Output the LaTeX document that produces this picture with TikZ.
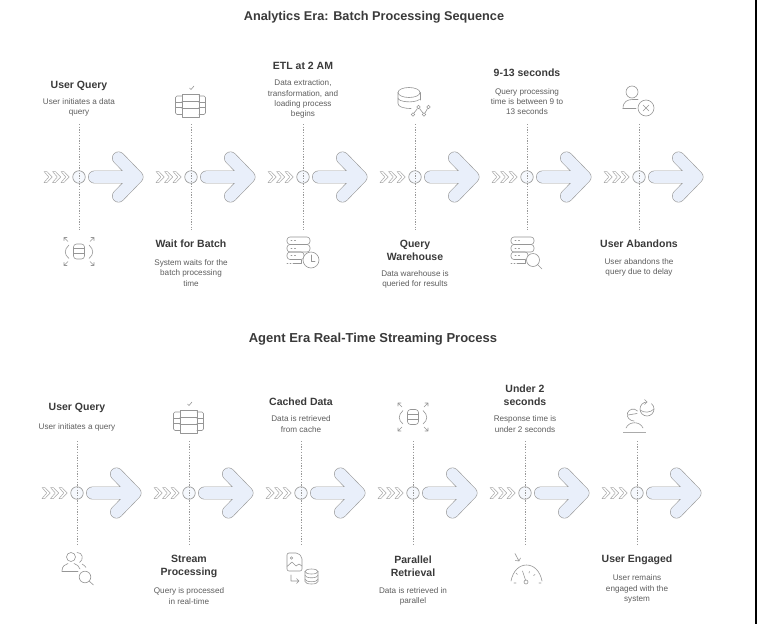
\documentclass[tikz,border=0pt]{standalone}
\usepackage{fontspec}
\setmainfont{Liberation Sans}
\definecolor{titlec}{HTML}{3A3A3A}
\definecolor{descc}{HTML}{5E5E5E}
\definecolor{linec}{HTML}{9A9A9A}
\definecolor{iconc}{HTML}{969696}
\definecolor{arrowf}{HTML}{E9EFFA}
\tikzset{
  x=1pt,y=-1pt,
  ttl/.style={font=\bfseries\fontsize{12.7}{16}\selectfont,text=titlec,inner sep=0pt,anchor=center},
  ttlb/.style={font=\bfseries\fontsize{13}{16}\selectfont,text=titlec,inner sep=0pt,anchor=center},
  head/.style={font=\bfseries\fontsize{10.5}{13}\selectfont,text=titlec,align=center,inner sep=0pt,anchor=center},
  desc/.style={font=\fontsize{8.15}{10.2}\selectfont,text=descc,align=center,inner sep=0pt,anchor=center},
  dots/.style={draw=linec,line width=0.6pt,dash pattern=on 1.3pt off 1.4pt},
  ico/.style={draw=iconc,line width=0.6pt,line cap=round,line join=round},
  hub/.style={circle,draw=linec,line width=0.65pt,fill=arrowf!45,minimum size=12.5pt,inner sep=0pt},
}
\newcommand{\stagefig}[5]{%
  \coordinate (#5t) at (#1,#3);
  \coordinate (#5b) at (#1,#4);
  \node[hub] (#5h) at (#1,#2) {};
  \draw[dots] (#5t) -- (#5b);
  \begin{scope}[shift={(#1,#2)}]
    \foreach \d in {-35,-26.5,-18}{
      \draw[draw=iconc!85,line width=0.5pt,line join=round]
        (\d,-5.5)--(\d+2.9,-5.5)--(\d+8.2,0)--(\d+2.9,5.5)--(\d,5.5)--(\d+4.8,0)--cycle;
    }
    \draw[draw=linec,line width=12.9pt,line cap=round,line join=round]
      (15.5,0)--(58,0) (39.5,-19)--(58,0)--(39.5,19);
    \draw[draw=arrowf,line width=11.7pt,line cap=round,line join=round]
      (15.5,0)--(58,0) (39.5,-19)--(58,0)--(39.5,19);
  \end{scope}
}
\newcommand{\cyl}[4]{% cx, top y, halfwidth, height
  \draw[ico] (#1,#2+2.5) ellipse[x radius=#3,y radius=2.5];
  \draw[ico] (#1-#3,#2+2.5)--(#1-#3,#2+#4-2.5) arc[start angle=180,end angle=0,x radius=#3,y radius=2.5]--(#1+#3,#2+2.5);
  \draw[ico] (#1-#3,#2+#4*0.42) arc[start angle=180,end angle=0,x radius=#3,y radius=2.5];
  \draw[ico] (#1-#3,#2+#4*0.68) arc[start angle=180,end angle=0,x radius=#3,y radius=2.5];
}
\newcommand{\arrowdb}[2]{%
  \begin{scope}[shift={(#1,#2)}]
    \draw[ico,rounded corners=3pt] (-5.5,-7.5) rectangle (5.5,7.5);
    \draw[ico] (-5.5,-3)--(5.5,-3) (-5.5,2)--(5.5,2);
    \draw[ico] (-10,-6.5) .. controls (-15,-2) and (-15,3) .. (-10,7);
    \draw[ico] (10,-6.5) .. controls (15,-2) and (15,3) .. (10,7);
    \draw[ico] (-11,-10)--(-15,-14) (-15,-11)--(-15,-14)--(-12,-14);
    \draw[ico] (11,-10)--(15,-14) (15,-11)--(15,-14)--(12,-14);
    \draw[ico] (-11,10)--(-15,14) (-15,11)--(-15,14)--(-12,14);
    \draw[ico] (11,10)--(15,14) (15,11)--(15,14)--(12,14);
  \end{scope}
}
\newcommand{\tableicon}[2]{%
  \begin{scope}[shift={(#1,#2)}]
    \draw[ico] (-9,-11.5) rectangle (8,11.5);
    \draw[ico] (-9,-4.5)--(8,-4.5) (-9,3)--(8,3);
    \draw[ico] (-9,-9.5)--(-14,-9.5)--(-15.5,-8)--(-15.5,7.5)--(-14,9)--(-9,9);
    \draw[ico] (-15.5,-3.5)--(-9,-3.5) (-15.5,2)--(-9,2);
    \draw[ico] (8,-9.5)--(13,-9.5)--(14.5,-8)--(14.5,7.5)--(13,9)--(8,9);
    \draw[ico] (14.5,-3.5)--(8,-3.5) (14.5,2)--(8,2);
    \draw[ico] (-1.5,-17.5)--(0,-16)--(3,-19.5);
  \end{scope}
}
\newcommand{\serverbars}[2]{%
  \begin{scope}[shift={(#1,#2)}]
    \draw[ico,rounded corners=3pt] (0,0) rectangle (23,7.5);
    \draw[ico,rounded corners=3pt] (0,7.5) rectangle (23,15);
    \draw[ico,rounded corners=3pt] (0,15) rectangle (17,22.5);
    \draw[ico] (4,3.7)--(5,3.7) (7.5,3.7)--(8.5,3.7) (4,11.2)--(5,11.2) (7.5,11.2)--(8.5,11.2) (4,18.7)--(5,18.7) (7.5,18.7)--(8.5,18.7);
    \draw[ico,dash pattern=on 1pt off 2pt] (0,26.5)--(7,26.5);
    \draw[ico] (7,26.5)--(14,26.5)--(14,23);
  \end{scope}
}
\begin{document}
\begin{tikzpicture}
\useasboundingbox (0,0) rectangle (757,624);
\fill[white] (0,0) rectangle (757,624);
\fill[black] (755,0) rectangle (757,624);

\node[ttl] (t1) at (374,17) {Analytics Era: Batch Processing Sequence};
\node[ttlb] (t2) at (373,339) {Agent Era Real-Time Streaming Process};

\stagefig{79}{177}{124}{230}{a}
\stagefig{191}{177}{124}{230}{b}
\stagefig{303}{177}{124}{230}{c}
\stagefig{415}{177}{124}{230}{d}
\stagefig{527}{177}{124}{230}{e}
\stagefig{639}{177}{124}{230}{f}
\stagefig{77}{493}{441}{546}{g}
\stagefig{189}{493}{441}{546}{h}
\stagefig{301}{493}{441}{546}{i}
\stagefig{413}{493}{441}{546}{j}
\stagefig{525}{493}{441}{546}{k}
\stagefig{637}{493}{441}{546}{l}

\node[head] (ah) at (79,85.5) {User Query};
\node[desc] (ad) at (79,107) {User initiates a data\\query};
\node[head] (bh) at (191,243.5) {Wait for Batch};
\node[desc] (bd) at (191,273) {System waits for the\\batch processing\\time};
\node[head] (ch) at (303,65.5) {ETL at 2 AM};
\node[desc] (cd) at (303,99) {Data extraction,\\transformation, and\\loading process\\begins};
\node[head] (dh) at (415,250) {Query\\Warehouse};
\node[desc] (dd) at (415,279.5) {Data warehouse is\\queried for results};
\node[head] (eh) at (527,72.5) {9-13 seconds};
\node[desc] (ed) at (527,101.5) {Query processing\\time is between 9 to\\13 seconds};
\node[head] (fh) at (639,243.5) {User Abandons};
\node[desc] (fd) at (639,267) {User abandons the\\query due to delay};
\node[head] (gh) at (77,407.5) {User Query};
\node[desc] (gd) at (77,427) {User initiates a query};
\node[head] (hh) at (189,566) {Stream\\Processing};
\node[desc] (hd) at (189,596) {Query is processed\\in real-time};
\node[head] (ih) at (301,401.5) {Cached Data};
\node[desc] (id) at (301,424) {Data is retrieved\\from cache};
\node[head] (jh) at (413,566) {Parallel\\Retrieval};
\node[desc] (jd) at (413,596) {Data is retrieved in\\parallel};
\node[head] (kh) at (525,395) {Under 2\\seconds};
\node[desc] (kd) at (525,424) {Response time is\\under 2 seconds};
\node[head] (lh) at (637,559.5) {User Engaged};
\node[desc] (ld) at (637,589) {User remains\\engaged with the\\system};

% icons
\arrowdb{79}{251.5}
\tableicon{191}{105.5}
\serverbars{287}{237}
\draw[ico,fill=white] (311,260) circle[radius=8];
\draw[ico] (311,255)--(311,261)--(315,261);
% warehouse
\draw[ico] (409,92.5) ellipse[x radius=11,y radius=5];
\draw[ico] (398,92.5)--(398,103.5) .. controls (398,106.5) and (403,108.5) .. (411,108.5);
\draw[ico] (420,92.5)--(420,100);
\draw[ico] (398,98) .. controls (398,102) and (414,103.5) .. (419.5,99.5);
\foreach \p in {(413,114.5),(418.5,107),(424,114.5),(428.5,107)} \draw[ico] \p circle[radius=1.8];
\draw[ico] (414,113)--(417.5,108.5) (419.5,108.5)--(423,113) (425,113)--(427.5,108.5);
\serverbars{511}{237}
\draw[ico,fill=white] (533,260) circle[radius=6.5];
\draw[ico] (537.6,264.6)--(542,269);
% user x
\draw[ico] (632,92) circle[radius=6];
\draw[ico] (623,108.5) .. controls (623,101) and (628,99.5) .. (633,99.5)--(638,99.5);
\draw[ico] (623,108.5)--(636,108.5);
\draw[ico] (646,108) circle[radius=8];
\draw[ico] (643,105)--(649,111) (649,105)--(643,111);
% users + search
\draw[ico] (71,557) circle[radius=4.5];
\draw[ico] (62,571) .. controls (62,566) and (65,564.5) .. (68,563.5) (74,563.5) .. controls (77,564.5) and (79,566) .. (80,569);
\draw[ico] (62,571)--(78,571);
\draw[ico] (77,552.5) .. controls (83,552) and (84,560) .. (79.5,562.5);
\draw[ico] (82,564) .. controls (84,565) and (85,566) .. (86,567.5);
\draw[ico] (85,577) circle[radius=5.8];
\draw[ico] (89,581)--(93.5,585);
\tableicon{189}{421.5}
% image to db
\draw[ico,rounded corners=2pt] (287,553)--(298,553)--(302,557)--(302,571)--(287,571)--cycle;
\draw[ico] (291.5,558) circle[radius=1.3];
\draw[ico] (287,566.5)--(292,562)--(296,566)--(299,564)--(302,566);
\draw[ico] (291,575)--(291,581)--(299,581) (296.5,578.5)--(299,581)--(296.5,583.5);
\cyl{311.5}{569}{6.5}{15}
\arrowdb{413}{417}
% gauge
\draw[ico] (511,581) .. controls (513,571) and (519,565) .. (526.5,565) .. controls (534,565) and (540,571) .. (542,581);
\draw[ico] (522.5,571)--(525.5,580);
\draw[ico] (526,582) circle[radius=2];
\draw[ico] (515,553.5)--(519,561) (515.5,560.5)--(519,561)--(520.5,558);
\draw[ico] (516,573)--(517.5,574.5) (529.5,571.5)--(529,573) (535,574.5)--(533.5,575.5) (541,583)--(539,583) (514,583)--(516,583);
% engaged
\draw[ico] (637.5,411) .. controls (634,407.5) and (629,409) .. (627.5,413) .. controls (626,417) and (630,421) .. (634,421);
\draw[ico] (628,415)--(637,413.5);
\draw[ico] (647,402) arc[start angle=-90,end angle=-410,radius=7];
\draw[ico] (640,410) .. controls (644,413) and (650,413) .. (654,409);
\draw[ico] (644.5,399.5)--(647,402)--(644.5,404.5);
\draw[ico] (626,428) .. controls (629,421) and (640,421) .. (643,428);
\draw[line width=1pt,draw=iconc!80] (623,432)--(646,432);
\end{tikzpicture}
\end{document}
